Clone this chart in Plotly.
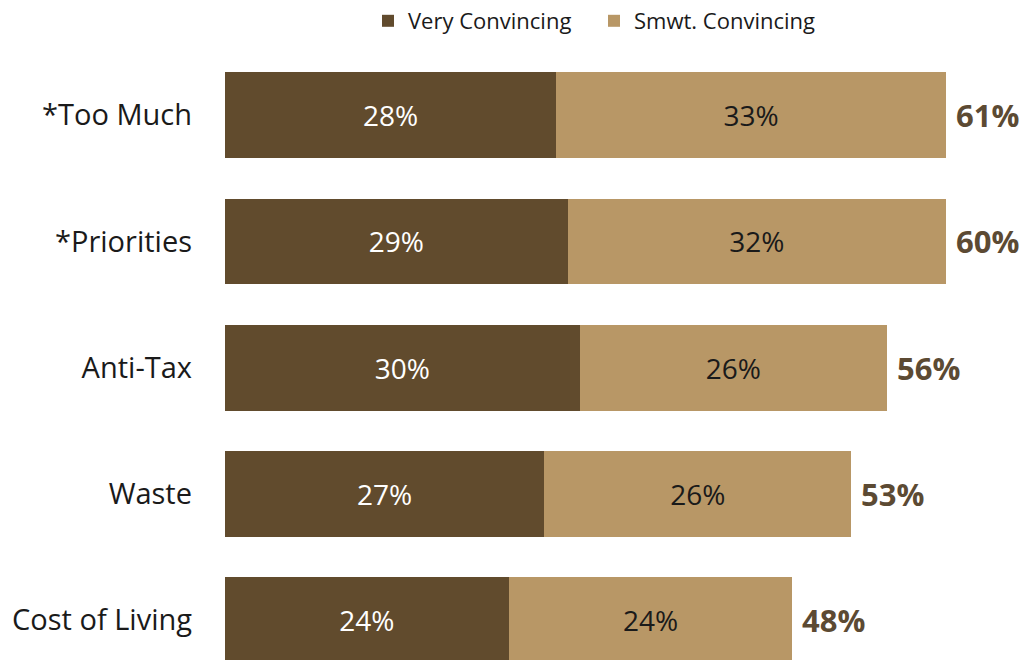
import plotly.graph_objects as go

# Survey messages, top to bottom
categories = ["*Too Much", "*Priorities", "Anti-Tax", "Waste", "Cost of Living"]
very_convincing = [28, 29, 30, 27, 24]
smwt_convincing = [33, 32, 26, 26, 24]
total_convincing = [61, 60, 56, 53, 48]

DARK = "#614b2d"
LIGHT = "#b89766"
FONT = "Open Sans"

# numeric y positions so the top category sits at the highest value
ypos = list(range(len(categories)))[::-1]

fig = go.Figure()
fig.add_trace(go.Bar(
    y=ypos, x=very_convincing, orientation="h", name="Very Convincing",
    marker=dict(color=DARK, line=dict(width=0)),
    text=[f"{v}%" for v in very_convincing], textposition="inside",
    insidetextanchor="middle", textangle=0,
    textfont=dict(color="white", size=28, family=FONT),
    width=0.68, hoverinfo="skip",
))
fig.add_trace(go.Bar(
    y=ypos, x=smwt_convincing, orientation="h", name="Smwt. Convincing",
    marker=dict(color=LIGHT, line=dict(width=0)),
    text=[f"{v}%" for v in smwt_convincing], textposition="inside",
    insidetextanchor="middle", textangle=0,
    textfont=dict(color="#1a1a1a", size=28, family=FONT),
    width=0.68, hoverinfo="skip",
))

# bold totals to the right of each stacked bar
for y, v, s, t in zip(ypos, very_convincing, smwt_convincing, total_convincing):
    fig.add_annotation(
        x=v + s, y=y, text=f"<b>{t}%</b>", showarrow=False,
        xanchor="left", xshift=8,
        font=dict(size=31, color="#5c4a33", family=FONT),
    )

fig.update_layout(
    width=1027, height=660,
    margin=dict(l=225, r=0, t=51, b=0),
    paper_bgcolor="white", plot_bgcolor="white",
    barmode="stack",
    uniformtext=dict(mode=False),
    font=dict(family=FONT, color="#1a1a1a"),
    showlegend=True,
    legend=dict(
        orientation="h", x=0.1783, xanchor="left", y=1.051, yanchor="middle",
        font=dict(size=22, color="#1a1a1a", family=FONT),
        itemwidth=30, entrywidth=181, traceorder="normal",
    ),
    xaxis=dict(range=[0, 67.85], visible=False, fixedrange=True),
    yaxis=dict(
        range=[-0.314, 4.5], tickvals=ypos, ticktext=categories,
        showgrid=False, zeroline=False, showline=False, ticks="",
        ticklabelstandoff=32,
        tickfont=dict(size=29, color="#1a1a1a", family=FONT),
        fixedrange=True,
    ),
)

fig.write_html("out.html")
